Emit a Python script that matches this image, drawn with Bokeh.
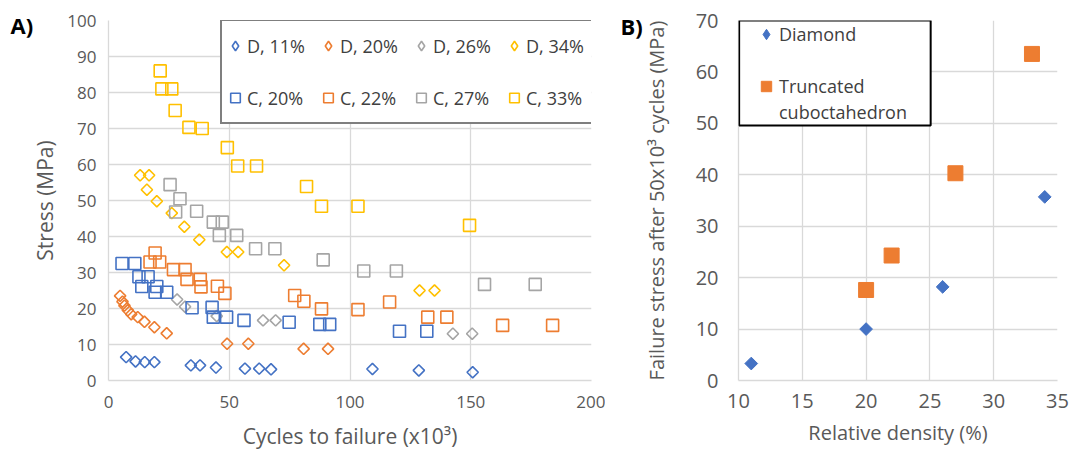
import math
from bokeh.plotting import figure
from bokeh.layouts import row
from bokeh.models import Legend, LegendItem, FixedTicker, BoxAnnotation, Range1d
from bokeh.embed import file_html
from bokeh.resources import INLINE

FONT = "Open Sans"
TXT = "#595959"
LEG_TXT = "#404040"
GRID = "#d9d9d9"
BLUE, ORANGE, GRAY, YELLOW = "#4472C4", "#ED7D31", "#A5A5A5", "#FFC000"

# ---------------- Panel A data: cycles to failure (x10^3) vs stress (MPa)
d11_x = [7.3, 11.2, 15.0, 19.0, 34.1, 37.9, 44.5, 56.5, 62.4, 67.3, 109.3, 128.5, 150.8]
d11_y = [6.5, 5.3, 5.1, 5.1, 4.2, 4.2, 3.6, 3.3, 3.3, 3.1, 3.2, 2.8, 2.3]
d20_x = [4.8, 5.8, 6.6, 8.0, 9.4, 12.1, 14.9, 19.0, 24.1, 49.1, 57.9, 80.8, 90.9]
d20_y = [23.5, 21.9, 20.8, 19.5, 18.4, 17.6, 16.3, 14.8, 13.1, 10.2, 10.2, 8.8, 8.8]
d26_x = [28.4, 31.7, 44.8, 64.0, 69.2, 142.6, 150.6]
d26_y = [22.5, 20.5, 17.9, 16.7, 16.7, 13.0, 13.0]
d34_x = [13.1, 16.8, 15.9, 20.0, 26.2, 31.4, 37.6, 49.0, 53.7, 72.7, 128.8, 135.0]
d34_y = [57.0, 57.0, 53.0, 49.8, 46.5, 42.7, 39.1, 35.7, 35.7, 32.0, 25.0, 25.0]
c20_x = [5.6, 10.9, 12.6, 16.4, 13.8, 20.0, 19.3, 24.1, 34.6, 42.9, 43.4, 48.9, 56.1, 74.8, 87.5, 91.6, 120.5, 131.8]
c20_y = [32.5, 32.5, 28.8, 28.8, 26.1, 26.1, 24.5, 24.5, 20.2, 20.3, 17.6, 17.6, 16.7, 16.2, 15.6, 15.6, 13.7, 13.7]
c22_x = [19.3, 17.2, 21.2, 26.9, 31.7, 32.5, 38.0, 38.3, 45.1, 48.2, 77.1, 80.9, 88.2, 103.3, 116.4, 132.2, 140.1, 163.2, 183.9]
c22_y = [35.4, 32.9, 32.9, 30.8, 30.8, 28.1, 28.1, 26.0, 26.2, 24.2, 23.6, 22.0, 19.9, 19.7, 21.8, 17.6, 17.6, 15.3, 15.3]
c27_x = [25.5, 29.6, 27.8, 36.5, 43.4, 47.1, 45.9, 53.1, 60.9, 68.9, 88.9, 105.7, 119.2, 155.7, 176.7]
c27_y = [54.4, 50.5, 46.8, 47.0, 44.0, 44.0, 40.3, 40.3, 36.6, 36.6, 33.5, 30.4, 30.4, 26.7, 26.7]
c33_x = [21.4, 22.1, 26.2, 27.6, 33.3, 38.8, 49.2, 53.5, 61.3, 82.0, 88.2, 103.3, 149.5]
c33_y = [86.0, 81.0, 81.0, 75.0, 70.3, 70.0, 64.7, 59.6, 59.6, 53.9, 48.4, 48.4, 43.1]

a_x_ticks = [0, 50, 100, 150, 200]
a_y_ticks = [0, 10, 20, 30, 40, 50, 60, 70, 80, 90, 100]

# ---------------- Panel B data: relative density (%) vs failure stress (MPa)
dia_x = [11, 20, 26, 34]
dia_y = [3.3, 10.0, 18.2, 35.7]
tc_x = [20, 22, 27, 33]
tc_y = [17.6, 24.3, 40.3, 63.5]

b_x_ticks = [10, 15, 20, 25, 30, 35]
b_y_ticks = [0, 10, 20, 30, 40, 50, 60, 70]

panel_tags = ["A)", "B)"]


def style(p, tick_size, title_size, xt, yt, x_standoff, y_standoff, xl_standoff, yl_standoff):
    p.outline_line_color = None
    p.background_fill_color = "white"
    p.border_fill_color = "white"
    p.xaxis.ticker = FixedTicker(ticks=xt)
    p.yaxis.ticker = FixedTicker(ticks=yt)
    p.xgrid.ticker = FixedTicker(ticks=xt)
    p.ygrid.ticker = FixedTicker(ticks=yt)
    p.grid.grid_line_color = GRID
    p.grid.grid_line_width = 1.3
    for ax in (p.xaxis, p.yaxis):
        ax.axis_line_color = GRID
        ax.axis_line_width = 1.3
        ax.major_tick_line_color = None
        ax.minor_tick_line_color = None
        ax.major_tick_out = 0
        ax.major_tick_in = 0
        ax.minor_tick_out = 0
        ax.minor_tick_in = 0
        ax.major_label_text_font = FONT
        ax.major_label_text_font_size = f"{tick_size}px"
        ax.major_label_text_color = TXT
        ax.axis_label_text_font = FONT
        ax.axis_label_text_font_size = f"{title_size}px"
        ax.axis_label_text_font_style = "normal"
        ax.axis_label_text_color = TXT
    p.xaxis.major_label_standoff = x_standoff
    p.yaxis.major_label_standoff = y_standoff
    p.xaxis.axis_label_standoff = xl_standoff
    p.yaxis.axis_label_standoff = yl_standoff
    # off-screen x range, used only so legend swatches are drawn from the data
    p.extra_x_ranges = {"swatch": Range1d(start=-1000, end=-999)}


def tag(p, text, offset, standoff):
    p.title.text = text
    p.title.align = "left"
    p.title.offset = offset
    p.title.standoff = standoff
    p.title.vertical_align = "bottom"
    p.title.text_font = FONT
    p.title.text_font_size = "22px"
    p.title.text_font_style = "bold"
    p.title.text_color = "black"


# ---------------- Figure A
pA = figure(width=605, height=459, x_range=(0, 200), y_range=(0, 100),
            output_backend="svg", toolbar_location=None,
            min_border_left=108, min_border_right=14, min_border_top=20, min_border_bottom=79)
pA.xaxis.axis_label = "Cycles to failure (x10³)"
pA.yaxis.axis_label = "Stress (MPa)"
style(pA, 17, 21, a_x_ticks, a_y_ticks, 15, 12, 11, 5)
tag(pA, panel_tags[0], -98, -38)

series = [
    ("D, 11%", d11_x, d11_y, BLUE, "D"),
    ("D, 20%", d20_x, d20_y, ORANGE, "D"),
    ("D, 26%", d26_x, d26_y, GRAY, "D"),
    ("D, 34%", d34_x, d34_y, YELLOW, "D"),
    ("C, 20%", c20_x, c20_y, BLUE, "C"),
    ("C, 22%", c22_x, c22_y, ORANGE, "C"),
    ("C, 27%", c27_x, c27_y, GRAY, "C"),
    ("C, 33%", c33_x, c33_y, YELLOW, "C"),
]
items = []
for name, xs, ys, col, kind in series:
    if kind == "D":
        pA.scatter(xs, ys, marker="square", angle=math.pi / 4, size=8,
                   fill_color=None, line_color=col, line_width=1.6)
        sw = pA.scatter(xs, ys, marker="diamond", size=12, x_range_name="swatch",
                        fill_color=None, line_color=col, line_width=1.6)
    else:
        sw = pA.scatter(xs, ys, marker="square", size=12,
                        fill_color=None, line_color=col, line_width=1.6)
    items.append(LegendItem(label=name, renderers=[sw]))

legA = Legend(items=items, orientation="horizontal", ncols=4,
              location=(112, 256), padding=1, spacing=5,
              glyph_width=24, glyph_height=47, label_height=47, label_width=64,
              label_standoff=0, label_text_font=FONT, label_text_font_size="18px",
              label_text_color=LEG_TXT, border_line_color="black", border_line_width=2,
              background_fill_color="white", background_fill_alpha=1)
pA.add_layout(legA, "center")

# ---------------- Figure B
pB = figure(width=466, height=459, x_range=(10, 35), y_range=(0, 70),
            output_backend="svg", toolbar_location=None,
            min_border_left=133, min_border_right=14, min_border_top=18, min_border_bottom=76)
pB.xaxis.axis_label = "Relative density (%)"
pB.yaxis.axis_label = "Failure stress after 50x10³ cycles (MPa)"
style(pB, 20, 20, b_x_ticks, b_y_ticks, 13, 20, 8, 23)
tag(pB, panel_tags[1], -118, -40)

rd = pB.scatter(dia_x, dia_y, marker="square", angle=math.pi / 4, size=9,
                fill_color=BLUE, line_color=BLUE)
rt = pB.scatter(tc_x, tc_y, marker="square", size=15,
                fill_color=ORANGE, line_color=ORANGE)
sw_d = pB.scatter(dia_x, dia_y, marker="diamond", size=12, x_range_name="swatch",
                  fill_color=BLUE, line_color=BLUE)
blank = pB.scatter([], [], marker="square", size=1, fill_alpha=0, line_alpha=0)

pB.add_layout(BoxAnnotation(left=10.05, right=25.06, bottom=49.6, top=70,
                            fill_color="white", fill_alpha=1,
                            line_color="black", line_width=2, line_alpha=1))
legB = Legend(items=[LegendItem(label="Diamond", renderers=[sw_d]),
                     LegendItem(label=" ", renderers=[blank]),
                     LegendItem(label="Truncated", renderers=[rt]),
                     LegendItem(label="cuboctahedron", renderers=[blank])],
              location=(15, 255), padding=0, spacing=0,
              glyph_width=26, glyph_height=26, label_height=26,
              label_standoff=0, label_text_font=FONT, label_text_font_size="18px",
              label_text_color=LEG_TXT, border_line_color=None,
              background_fill_alpha=0)
pB.add_layout(legB, "center")

layout = row(pA, pB)
open("out.html", "w").write(file_html(layout, INLINE))
